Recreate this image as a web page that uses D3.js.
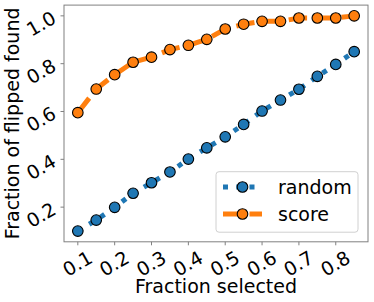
<!DOCTYPE html>
<html>
<head>
<meta charset="utf-8">
<script src="https://cdn.jsdelivr.net/npm/d3@7"></script>
<style>
  body { margin: 0; background: #fff; }
  svg { display: block; font-family: "DejaVu Sans", sans-serif; }
</style>
</head>
<body>
<div id="chart"></div>
<script>
// data
const fractions = [0.1, 0.15, 0.2, 0.25, 0.3, 0.35, 0.4, 0.45, 0.5, 0.55, 0.6, 0.65, 0.7, 0.75, 0.8, 0.85];
const randomVals = [0.100, 0.146, 0.199, 0.258, 0.302, 0.347, 0.401, 0.448, 0.494, 0.546, 0.602, 0.648, 0.693, 0.747, 0.797, 0.850];
const scoreVals = [0.595, 0.694, 0.754, 0.806, 0.827, 0.859, 0.877, 0.902, 0.945, 0.965, 0.977, 0.977, 0.991, 0.991, 0.991, 1.000];
const xTicks = [0.1, 0.2, 0.3, 0.4, 0.5, 0.6, 0.7, 0.8];
const yTicks = [0.2, 0.4, 0.6, 0.8, 1.0];
const seriesNames = ["random", "score"];

const W = 374, H = 302;
const plotL = 64, plotR = 368, plotT = 5.1, plotB = 241.8;
const blue = "#1f77b4", orange = "#ff7f0e";
const spineColor = "#808080";

const svg = d3.select("#chart").append("svg")
    .attr("width", W)
    .attr("height", H);

const x = d3.scaleLinear().domain([0.0625, 0.8875]).range([plotL, plotR]);
const y = d3.scaleLinear().domain([0.055, 1.045]).range([plotB, plotT]);

// frame
svg.append("rect")
    .attr("x", plotL).attr("y", plotT)
    .attr("width", plotR - plotL).attr("height", plotB - plotT)
    .attr("fill", "none")
    .attr("stroke", spineColor)
    .attr("stroke-width", 1);

// x ticks
const xt = svg.append("g");
xTicks.forEach(t => {
    xt.append("line")
        .attr("x1", x(t)).attr("x2", x(t))
        .attr("y1", plotB).attr("y2", plotB + 3.5)
        .attr("stroke", spineColor);
    xt.append("text")
        .attr("transform", `translate(${x(t) - 0.5},${plotB + 21.5}) rotate(-30)`)
        .attr("text-anchor", "middle")
        .attr("dominant-baseline", "central")
        .attr("font-size", 19)
        .text(d3.format(".1f")(t));
});

// y ticks
const yt = svg.append("g");
yTicks.forEach(t => {
    yt.append("line")
        .attr("x1", plotL - 3.5).attr("x2", plotL)
        .attr("y1", y(t)).attr("y2", y(t))
        .attr("stroke", spineColor);
    yt.append("text")
        .attr("transform", `translate(41,${y(t) + 7.5}) rotate(-30)`)
        .attr("text-anchor", "middle")
        .attr("dominant-baseline", "central")
        .attr("font-size", 19)
        .text(d3.format(".1f")(t));
});

// axis labels
svg.append("text")
    .attr("x", (plotL + plotR) / 2)
    .attr("y", 293)
    .attr("text-anchor", "middle")
    .attr("font-size", 19)
    .text("Fraction selected");

svg.append("text")
    .attr("transform", `translate(19,${(plotT + plotB) / 2}) rotate(-90)`)
    .attr("text-anchor", "middle")
    .attr("font-size", 19)
    .text("Fraction of flipped found");

// series
const series = [
    { name: seriesNames[0], vals: randomVals, color: blue, dash: "5,8.25" },
    { name: seriesNames[1], vals: scoreVals, color: orange, dash: "18.5,8" }
];

const line = d3.line().x(d => x(d[0])).y(d => y(d[1]));

series.forEach(s => {
    const pts = fractions.map((f, i) => [f, s.vals[i]]);
    svg.append("path")
        .datum(pts)
        .attr("d", line)
        .attr("fill", "none")
        .attr("stroke", s.color)
        .attr("stroke-width", 5)
        .attr("stroke-dasharray", s.dash);
    svg.append("g").selectAll("circle")
        .data(pts)
        .join("circle")
        .attr("cx", d => x(d[0]))
        .attr("cy", d => y(d[1]))
        .attr("r", 5.3)
        .attr("fill", s.color)
        .attr("stroke", "#000")
        .attr("stroke-width", 1.1);
});

// legend
const lg = svg.append("g");
lg.append("rect")
    .attr("x", 216).attr("y", 171.7)
    .attr("width", 142).attr("height", 60.5)
    .attr("rx", 3)
    .attr("fill", "#fff").attr("fill-opacity", 0.8)
    .attr("stroke", "#d0d0d0");

series.forEach((s, i) => {
    const cy = 187 + i * 27;
    lg.append("line")
        .attr("x1", 223).attr("x2", 262)
        .attr("y1", cy).attr("y2", cy)
        .attr("stroke", s.color)
        .attr("stroke-width", 5)
        .attr("stroke-dasharray", s.dash);
    lg.append("circle")
        .attr("cx", 242.5).attr("cy", cy)
        .attr("r", 5.3)
        .attr("fill", s.color)
        .attr("stroke", "#000")
        .attr("stroke-width", 1.1);
    lg.append("text")
        .attr("x", 278).attr("y", cy + 6.8)
        .attr("font-size", 19)
        .text(s.name);
});
</script>
</body>
</html>
